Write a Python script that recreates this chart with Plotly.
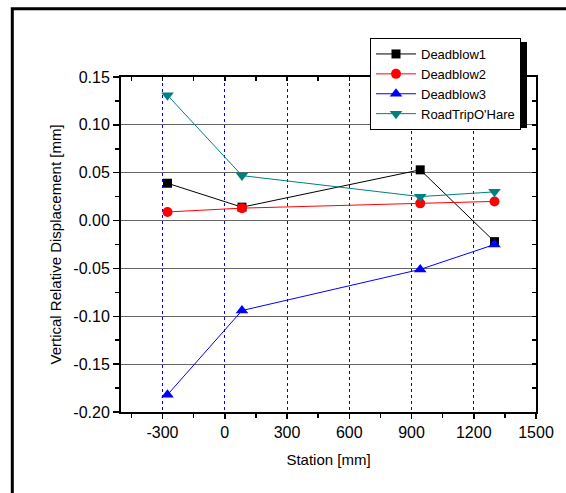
import plotly.graph_objects as go

# ---- data ----
stations = [-276, 83, 942, 1300]
deadblow1 = [0.039, 0.014, 0.053, -0.022]
deadblow2 = [0.009, 0.013, 0.018, 0.020]
deadblow3 = [-0.182, -0.094, -0.051, -0.025]
roadtrip = [0.131, 0.047, 0.025, 0.030]

x_tickvals = [-300, 0, 300, 600, 900, 1200, 1500]
x_ticktext = ["-300", "0", "300", "600", "900", "1200", "1500"]
y_tickvals = [-0.20, -0.15, -0.10, -0.05, 0.00, 0.05, 0.10, 0.15]
y_ticktext = ["-0.20", "-0.15", "-0.10", "-0.05", "0.00", "0.05", "0.10", "0.15"]

FONT = "Arial, Liberation Sans, sans-serif"

W, H = 566, 493
L, R, T, B = 121, 30, 77, 81
pw, ph = W - L - R, H - T - B


def px_x(p):
    return (p - L) / pw


def px_y(p):
    return (H - B - p) / ph


fig = go.Figure()

series = [
    ("Deadblow1", deadblow1, "#000000", "square", 9),
    ("Deadblow2", deadblow2, "#FF0000", "circle", 10),
    ("Deadblow3", deadblow3, "#0000FF", "triangle-up", 11),
    ("RoadTripO'Hare", roadtrip, "#008080", "triangle-down", 11),
]
for name, vals, col, sym, sz in series:
    fig.add_trace(go.Scatter(
        x=stations, y=vals, name=name, mode="lines+markers",
        line=dict(color=col, width=1),
        marker=dict(symbol=sym, size=sz, color=col, line=dict(width=0)),
        cliponaxis=False,
    ))

# dummy trace for mirrored (top/right) axes with inside ticks
fig.add_trace(go.Scatter(x=[None], y=[None], xaxis="x2", yaxis="y2",
                         showlegend=False, hoverinfo="skip"))

xrange = [-500, 1500]
yrange = [-0.20, 0.15]

fig.update_layout(
    template="none",
    width=W, height=H,
    margin=dict(l=L, r=R, t=T, b=B, pad=0),
    paper_bgcolor="white", plot_bgcolor="white",
    font=dict(family=FONT, color="black"),
    showlegend=True,
    hovermode=False,
    legend=dict(
        x=px_x(370), y=px_y(38), xanchor="left", yanchor="top",
        bgcolor="white", bordercolor="black", borderwidth=1,
        font=dict(family=FONT, size=13, color="black"),
        tracegroupgap=0, itemwidth=40,
    ),
    xaxis=dict(
        range=xrange, tickmode="array", tickvals=x_tickvals, ticktext=x_ticktext,
        showline=True, linecolor="black", linewidth=2,
        ticks="outside", ticklen=5, tickwidth=1.5, tickcolor="black",
        tickfont=dict(size=16, family=FONT),
        showgrid=True, gridcolor="#0000FF", gridwidth=1, griddash="dot",
        zeroline=False,
        minor=dict(tickmode="linear", tick0=0, dtick=150, ticks="outside",
                   ticklen=4, tickwidth=1.5, tickcolor="black", showgrid=False),
        title=dict(text="Station [mm]", font=dict(size=15, family=FONT), standoff=14),
    ),
    yaxis=dict(
        range=yrange, tickmode="array", tickvals=y_tickvals, ticktext=y_ticktext,
        showline=True, linecolor="black", linewidth=2,
        ticks="outside", ticklen=6, tickwidth=1.5, tickcolor="black",
        tickfont=dict(size=16, family=FONT),
        showgrid=True, gridcolor="#666666", gridwidth=1, griddash="solid",
        zeroline=False,
        minor=dict(tickmode="linear", tick0=0, dtick=0.025, ticks="outside",
                   ticklen=4, tickwidth=1.5, tickcolor="black", showgrid=False),
        title=dict(text="Vertical Relative Displacement [mm]",
                   font=dict(size=15, family=FONT), standoff=8),
    ),
    xaxis2=dict(
        overlaying="x", side="top", range=xrange, tickmode="array", tickvals=x_tickvals,
        showticklabels=False, showline=True, linecolor="black", linewidth=2,
        ticks="inside", ticklen=4, tickwidth=1.5, tickcolor="black",
        showgrid=False, zeroline=False,
        minor=dict(tickmode="linear", tick0=0, dtick=150, ticks="inside",
                   ticklen=4, tickwidth=1.5, tickcolor="black", showgrid=False),
    ),
    yaxis2=dict(
        overlaying="y", side="right", range=yrange, tickmode="array", tickvals=y_tickvals,
        showticklabels=False, showline=True, linecolor="black", linewidth=2,
        ticks="inside", ticklen=4, tickwidth=1.5, tickcolor="black",
        showgrid=False, zeroline=False,
        minor=dict(tickmode="linear", tick0=0, dtick=0.025, ticks="inside",
                   ticklen=4, tickwidth=1.5, tickcolor="black", showgrid=False),
    ),
)

# outer frame (cropped on right and bottom)
fig.add_shape(type="rect", xref="paper", yref="paper",
              x0=px_x(12.3), x1=px_x(620), y0=px_y(560), y1=px_y(8.8),
              line=dict(color="black", width=3), fillcolor="rgba(0,0,0,0)", layer="above")

# legend drop shadow (right side, partly hidden under the legend box)
fig.add_shape(type="rect", xref="paper", yref="paper",
              x0=px_x(505), x1=px_x(527), y0=px_y(128), y1=px_y(42),
              line=dict(width=0), fillcolor="black", layer="above")

fig.write_html("out.html", config={"displayModeBar": False, "staticPlot": True},
               post_script="document.body.style.margin='0px';")
